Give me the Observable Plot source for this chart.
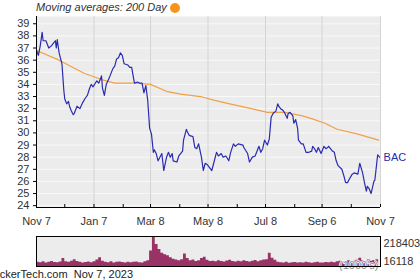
<!DOCTYPE html>
<html><head><meta charset="utf-8">
<script src="https://cdn.jsdelivr.net/npm/d3@7"></script>
<script src="https://cdn.jsdelivr.net/npm/@observablehq/plot@0.6"></script>
<style>
body{margin:0;background:#fff;}
#wrap{position:relative;width:420px;height:280px;overflow:hidden;font-family:"Liberation Sans",Arial,sans-serif;color:#333;}
#wrap svg{position:absolute;left:0;overflow:visible;}
#title{position:absolute;left:36px;top:1px;font-size:11px;line-height:12px;font-style:italic;color:#333;white-space:nowrap;}
#dot{position:absolute;left:170px;top:2.5px;width:10px;height:10px;border-radius:50%;background:#f7941d;}
#foot{position:absolute;left:-9px;top:268px;font-size:11px;line-height:12px;color:#222;white-space:pre;}
</style></head>
<body><div id="wrap">
<div id="title">Moving averages: 200 Day</div><div id="dot"></div>
<div id="foot">TickerTech.com  Nov 7, 2023</div>
</div>
<script>
const ticker = "BAC";
const priceDates = ["2022-11-07","2022-11-09","2022-11-11","2022-11-13","2022-11-14","2022-11-17","2022-11-20","2022-11-23","2022-11-25","2022-11-27","2022-11-28","2022-11-29",
"2022-12-01","2022-12-04","2022-12-06","2022-12-07","2022-12-09","2022-12-11","2022-12-12","2022-12-14","2022-12-16","2022-12-17","2022-12-20","2022-12-23","2022-12-26","2022-12-29","2022-12-31",
"2023-01-02","2023-01-04","2023-01-06","2023-01-10","2023-01-12","2023-01-15","2023-01-16","2023-01-18","2023-01-20","2023-01-23","2023-01-27","2023-01-29","2023-01-31",
"2023-02-02","2023-02-04","2023-02-06","2023-02-08","2023-02-12","2023-02-14","2023-02-16","2023-02-18","2023-02-19","2023-02-22","2023-02-25","2023-02-27",
"2023-03-01","2023-03-03","2023-03-05","2023-03-07","2023-03-09","2023-03-11","2023-03-12","2023-03-14","2023-03-16","2023-03-20","2023-03-22","2023-03-25","2023-03-27","2023-03-29","2023-03-31",
"2023-04-01","2023-04-05","2023-04-07","2023-04-11","2023-04-12","2023-04-15","2023-04-16","2023-04-18","2023-04-22","2023-04-24","2023-04-26","2023-04-28",
"2023-05-01","2023-05-03","2023-05-05","2023-05-07","2023-05-10","2023-05-12","2023-05-14","2023-05-17","2023-05-19","2023-05-22","2023-05-24","2023-05-27","2023-05-30",
"2023-06-01","2023-06-04","2023-06-06","2023-06-09","2023-06-14","2023-06-15","2023-06-19","2023-06-21","2023-06-24","2023-06-27",
"2023-07-01","2023-07-03","2023-07-05","2023-07-07","2023-07-10","2023-07-12","2023-07-14","2023-07-16","2023-07-19","2023-07-21","2023-07-22","2023-07-24","2023-07-26","2023-07-28","2023-07-31",
"2023-08-01","2023-08-03","2023-08-06","2023-08-07","2023-08-09","2023-08-11","2023-08-12","2023-08-15","2023-08-17","2023-08-20","2023-08-23","2023-08-26","2023-08-27","2023-08-29","2023-08-31",
"2023-09-02","2023-09-05","2023-09-08","2023-09-10","2023-09-12","2023-09-13","2023-09-17","2023-09-19","2023-09-21","2023-09-23","2023-09-27","2023-09-29",
"2023-10-01","2023-10-03","2023-10-05","2023-10-08","2023-10-10","2023-10-14","2023-10-16","2023-10-19","2023-10-21","2023-10-23","2023-10-24","2023-10-26","2023-10-28","2023-10-31",
"2023-11-01","2023-11-03","2023-11-04","2023-11-06"];
const priceValues = [36.8,36.4,37.2,38.3,37.6,37.6,37.0,37.2,37.4,37.6,37.0,37.7,
36.6,35.7,33.5,32.8,32.4,32.6,32.2,31.8,31.5,31.6,32.2,32.0,32.5,32.9,33.1,
33.6,34.0,33.8,34.3,34.1,34.7,33.7,33.1,34.0,34.5,35.3,35.5,36.1,
36.2,36.6,36.4,35.7,35.6,35.4,35.4,34.5,34.1,34.2,34.1,34.1,
33.3,33.9,32.7,30.4,29.9,28.4,28.6,28.3,27.7,28.3,26.9,28.0,28.4,28.0,28.3,
27.7,27.6,28.1,28.5,29.4,30.3,30.1,29.8,29.7,28.8,28.7,29.1,
28.0,26.9,27.5,27.4,27.1,26.9,27.5,28.4,28.1,28.3,28.0,28.1,27.7,
28.4,29.1,28.9,29.1,29.0,28.8,28.3,27.6,28.0,28.1,
28.9,28.4,28.7,29.4,29.0,29.5,31.3,31.6,31.8,32.4,32.2,32.0,31.9,31.7,31.2,
31.6,31.7,31.4,30.8,31.1,30.4,29.4,29.1,29.1,28.4,28.4,28.5,28.9,28.7,28.4,
28.8,28.3,28.9,28.7,28.8,28.9,28.5,28.4,27.7,27.3,27.0,26.5,
25.9,25.9,26.2,26.6,26.7,26.6,27.5,26.7,25.9,25.2,25.6,25.4,25.0,26.0,
26.1,27.5,28.2,28.0];
const maDates = ["2022-11-07","2022-12-01","2022-12-28","2023-01-15","2023-01-29","2023-02-19","2023-03-08","2023-03-26","2023-04-09","2023-04-30","2023-05-14","2023-05-31","2023-06-17","2023-07-10","2023-07-29","2023-08-16","2023-08-25","2023-09-09","2023-09-22","2023-10-14","2023-11-05"];
const maValues = [36.8,36.0,34.9,34.4,34.1,34.1,34.0,33.4,33.2,33.0,32.7,32.4,32.1,31.7,31.7,31.4,31.2,30.8,30.3,29.9,29.4];
const volumeStart = "2022-11-07";
const volumeStepDays = 3;
const volumeValues = [45000,42000,48000,40000,44000,50000,43000,41000,47000,
70000,
48000,45000,52000,62000,50000,44000,40000,43000,46000,42000,48000,
60000,75000,52000,
45000,42000,48000,40000,44000,46000,43000,39000,45000,41000,44000,47000,42000,40000,48000,
55000,120000,218403,165000,130000,105000,95000,88000,75000,65000,60000,55000,62000,100000,70000,55000,60000,50000,55000,70000,78000,58000,50000,
52000,48000,55000,50000,47000,53000,58000,50000,46000,52000,48000,55000,50000,47000,
52000,56000,48000,55000,60000,62000,
105000,72000,58000,
45000,42000,40000,44000,38000,41000,43000,39000,42000,40000,45000,41000,38000,42000,44000,40000,39000,43000,41000,45000,42000,
48000,52000,46000,50000,55000,48000,52000,58000,72000,55000,50000,60000,52000,56000,62000,58000];
const volumeMax = 218403, volumeMin = 16118;
const xStart = "2022-11-07", xEnd = "2023-11-07";
const yTicks = [24,25,26,27,28,29,30,31,32,33,34,35,36,37,38,39];
const yDomain = [23.85, 39.6];
const labelDates = ["2022-11-07","2023-01-07","2023-03-08","2023-05-08","2023-07-08","2023-09-06","2023-11-07"];
const tickLabels = ["Nov 7","Jan 7","Mar 8","May 8","Jul 8","Sep 6","Nov 7"];
const minorDates = ["2022-12-07","2023-02-07","2023-04-08","2023-06-08","2023-08-08","2023-10-07"];

const P = (s) => new Date(s + "T00:00:00Z");
const price = priceDates.map((d, i) => ({date: P(d), value: priceValues[i]}));
const ma = maDates.map((d, i) => ({date: P(d), value: maValues[i]}));
const vol = volumeValues.map((v, i) => ({date: d3.utcDay.offset(P(volumeStart), i * volumeStepDays), value: v}));
const labDates = labelDates.map(P);
const allTicks = labDates.concat(minorDates.map(P));
const labelByTime = new Map(labDates.map((d, i) => [+d, tickLabels[i]]));
const xDomain = [P(xStart), P(xEnd)];
const font = {fontFamily: '"Liberation Sans", Arial, sans-serif', fontSize: "11px", color: "#333", background: "transparent", overflow: "visible"};

const main = Plot.plot({
  width: 420, height: 230,
  marginTop: 16, marginBottom: 23, marginLeft: 36, marginRight: 40,
  style: font,
  x: {type: "utc", domain: xDomain, label: null},
  y: {domain: yDomain, label: null},
  marks: [
    Plot.frame({fill: "#ececec", stroke: null}),
    Plot.gridY(yTicks, {stroke: "#f9f9f9", strokeOpacity: 1}),
    Plot.gridX(labDates, {stroke: "#d4d4d4", strokeOpacity: 1}),
    Plot.line(ma, {x: "date", y: "value", stroke: "#f0a048", strokeWidth: 1.2}),
    Plot.line(price, {x: "date", y: "value", stroke: "#2b2bb0", strokeWidth: 1.2}),
    Plot.ruleY([yDomain[0]], {stroke: "#000"}),
    Plot.ruleX([xDomain[0]], {stroke: "#000"}),
    Plot.axisY(yTicks, {anchor: "left", tickSize: 3, tickPadding: 4, stroke: "#000", fill: "#333", tickFormat: d => String(d), label: null}),
    Plot.axisX(allTicks, {anchor: "bottom", tickSize: 3, dy: -3, text: null, stroke: "#000", label: null}),
    Plot.axisX(labDates, {anchor: "bottom", tickSize: 0, tickPadding: 10, fill: "#333", tickFormat: d => labelByTime.get(+d), label: null}),
    Plot.text([price[price.length - 1]], {x: "date", y: "value", text: () => ticker, textAnchor: "start", dx: 4, fill: "#2b2bb0", fontSize: 11})
  ]
});
main.style.top = "0px";
document.getElementById("wrap").appendChild(main);

const volume = Plot.plot({
  width: 420, height: 32,
  marginTop: 1, marginBottom: 1, marginLeft: 36, marginRight: 40,
  style: font,
  x: {type: "utc", domain: xDomain, axis: null},
  y: {domain: [volumeMin, volumeMax], axis: null},
  marks: [
    Plot.frame({fill: "#ececec", stroke: null}),
    Plot.areaY(vol, {x: "date", y1: volumeMin, y2: "value", fill: "#993366", curve: "step-after", clip: true}),
    Plot.text(["(1000's)"], {frameAnchor: "bottom-right", textAnchor: "end", lineAnchor: "bottom", dx: -2, dy: 2, fill: "#8a8a8a", stroke: "#fff", strokeWidth: 1.5, fontSize: 11}),
    Plot.frame({stroke: "#000", fill: null}),
    Plot.axisY([volumeMax], {anchor: "right", tickSize: 0, tickPadding: 3, dy: 7, fill: "#333", tickFormat: d => String(d), label: null}),
    Plot.axisY([volumeMin], {anchor: "right", tickSize: 0, tickPadding: 3, dy: -5, fill: "#333", tickFormat: d => String(d), label: null})
  ]
});
volume.style.top = "235px";
document.getElementById("wrap").appendChild(volume);
</script>
</body></html>
